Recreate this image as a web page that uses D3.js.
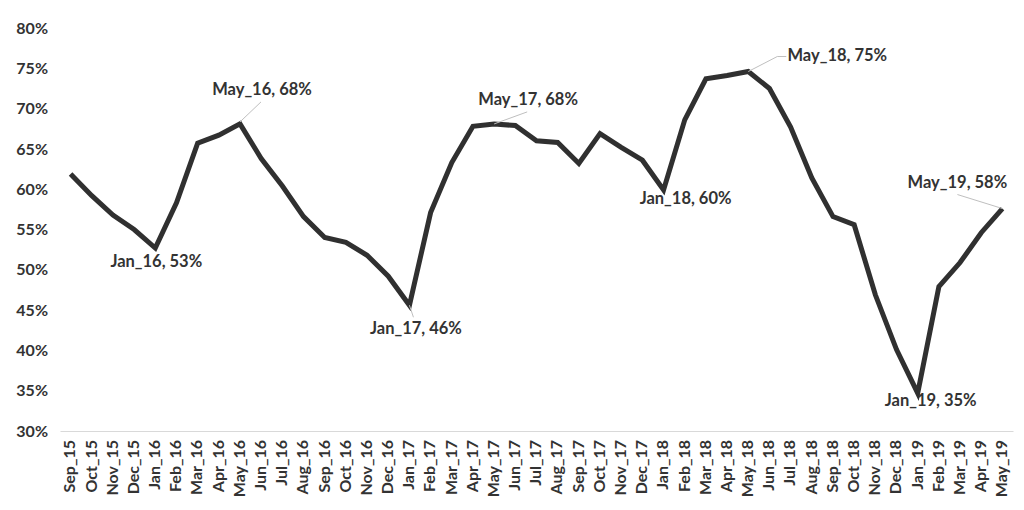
<!DOCTYPE html>
<html><head><meta charset="utf-8">
<script src="https://cdn.jsdelivr.net/npm/d3@7"></script>
<style>body{margin:0;background:#fff;} svg{display:block;}</style>
</head><body>
<svg id="c" width="1024" height="510"></svg>
<script>
const months = ["Sep_15","Oct_15","Nov_15","Dec_15","Jan_16","Feb_16","Mar_16","Apr_16","May_16","Jun_16","Jul_16","Aug_16","Sep_16","Oct_16","Nov_16","Dec_16","Jan_17","Feb_17","Mar_17","Apr_17","May_17","Jun_17","Jul_17","Aug_17","Sep_17","Oct_17","Nov_17","Dec_17","Jan_18","Feb_18","Mar_18","Apr_18","May_18","Jun_18","Jul_18","Aug_18","Sep_18","Oct_18","Nov_18","Dec_18","Jan_19","Feb_19","Mar_19","Apr_19","May_19"];
const values = [61.9,59.2,56.8,55.0,52.7,58.3,65.7,66.7,68.1,63.8,60.4,56.6,54.0,53.4,51.8,49.2,45.6,57.1,63.3,67.8,68.1,67.9,66.0,65.8,63.2,66.9,65.2,63.6,59.9,68.6,73.7,74.1,74.6,72.5,67.7,61.4,56.6,55.6,46.9,40.1,34.7,47.9,50.9,54.6,57.6];
const yTicks = [30,35,40,45,50,55,60,65,70,75,80];
const callouts = ["Jan_16","May_16","Jan_17","May_17","Jan_18","May_18","Jan_19","May_19"];

const svg = d3.select("#c");
const x = d3.scaleBand().domain(months).range([60,1013]).padding(0);
const y = d3.scaleLinear().domain([30,80]).range([431,28]);
const cx = m => x(m) + x.bandwidth()/2;
const font = "Lato, 'Open Sans', sans-serif";
const col = "#333333";

// y axis labels
const ya = svg.append("g").attr("transform","translate(48,0)")
  .call(d3.axisLeft(y).tickValues(yTicks).tickSize(0).tickPadding(0).tickFormat(d=>d+"%"));
ya.select(".domain").remove();
ya.selectAll("text").attr("font-family",font).attr("font-weight",700).attr("font-size",16).attr("fill",col);

// x axis
const xa = svg.append("g").attr("transform","translate(0,431)")
  .call(d3.axisBottom(x).tickSize(0).tickPadding(0));
xa.select(".domain").attr("stroke","#d9d9d9").attr("stroke-width",1);
xa.selectAll("text").attr("font-family",font).attr("font-weight",700).attr("font-size",16).attr("fill",col)
  .attr("transform","rotate(-90)").attr("text-anchor","end").attr("dx","-9").attr("dy","0.3em").attr("y",0).attr("x",0);

// line
const data = months.map((m,i)=>({m, v: values[i]}));
svg.append("path").datum(data)
  .attr("fill","none").attr("stroke","#303030").attr("stroke-width",5).attr("stroke-linejoin","miter")
  .attr("d", d3.line().x(d=>cx(d.m)).y(d=>y(d.v)));

// callout labels: offsets relative to point
const off = {
  "Jan_16": {dx:1, dy:13, leader:null},
  "May_16": {dx:22, dy:-34.5, leader:[[0,-2],[21,-22]]},
  "Jan_17": {dx:6.5, dy:23, leader:[[0,0],[4,12]]},
  "May_17": {dx:34, dy:-25, leader:[[0,0],[33,-12]]},
  "Jan_18": {dx:22, dy:8.5, leader:null},
  "May_18": {dx:89, dy:-16.5, leader:[[0,0],[29,-15],[38,-15]]},
  "Jan_19": {dx:13, dy:7, leader:null},
  "May_19": {dx:-45, dy:-26, leader:[[0,0],[-45,-14]]}
};
callouts.forEach(m=>{
  const i = months.indexOf(m);
  const px = cx(m), py = y(values[i]);
  const o = off[m];
  if (o.leader) {
    svg.append("path").attr("fill","none").attr("stroke","#bfbfbf").attr("stroke-width",1)
      .attr("d", d3.line()(o.leader.map(p=>[px+p[0],py+p[1]])));
  }
  svg.append("text").attr("x",px+o.dx).attr("y",py+o.dy).attr("text-anchor","middle").attr("dy","0.36em")
    .attr("font-family",font).attr("font-weight",700).attr("font-size",16.5).attr("fill",col)
    .text(m+", "+Math.round(values[i])+"%");
});
</script>
</body></html>
